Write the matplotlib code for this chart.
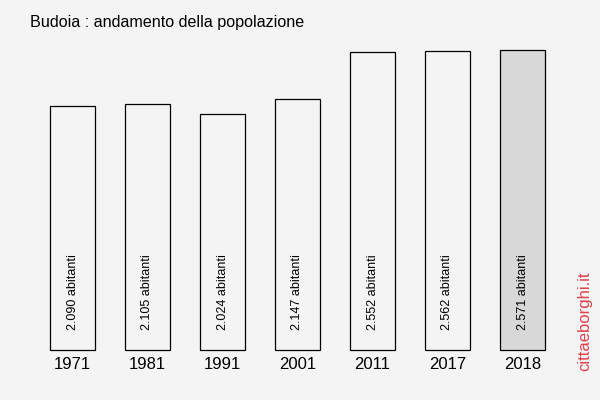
import matplotlib.pyplot as plt
import numpy as np

plt.rcParams['font.family'] = ['Liberation Sans', 'DejaVu Sans']

years = ['1971', '1981', '1991', '2001', '2011', '2017', '2018']
population = [2090, 2105, 2024, 2147, 2552, 2562, 2571]
labels = ['2.090 abitanti', '2.105 abitanti', '2.024 abitanti', '2.147 abitanti',
          '2.552 abitanti', '2.562 abitanti', '2.571 abitanti']

bg = '#f4f4f4'
fig = plt.figure(figsize=(6, 4), dpi=100, facecolor=bg)
# axes: left 35px, right 560px, bottom 350px, top 40px
ax = fig.add_axes([35 / 600, 50 / 400, 525 / 600, 310 / 400])
ax.set_facecolor(bg)

x = np.arange(len(years))
colors = [bg] * (len(years) - 1) + ['#d8d8d8']
bars = ax.bar(x, population, width=0.6, color=colors, edgecolor='black', linewidth=0.9)
for b in bars:
    b.set_clip_on(False)

for xi, lab in zip(x, labels):
    ax.annotate(lab, (xi, 0), xytext=(0, 14.5), textcoords='offset points',
                rotation=90, ha='center', va='bottom', fontsize=9)

ax.set_xlim(-0.5, len(years) - 0.5)
ax.set_ylim(0, max(population) * 310 / 300)
ax.set_xticks(x)
ax.set_xticklabels(years, fontsize=12)
ax.tick_params(axis='x', length=0, pad=5)
ax.set_yticks([])
for s in ax.spines.values():
    s.set_visible(False)

fig.text(30 / 600, 1 - 22 / 400, 'Budoia : andamento della popolazione',
         fontsize=11.6, ha='left', va='center')
fig.text(585 / 600, 1 - 321 / 400, 'cittaeborghi.it', color='#e0404a',
         fontsize=12, rotation=90, ha='center', va='center')

fig.savefig('out.png', dpi=100, facecolor=bg)
